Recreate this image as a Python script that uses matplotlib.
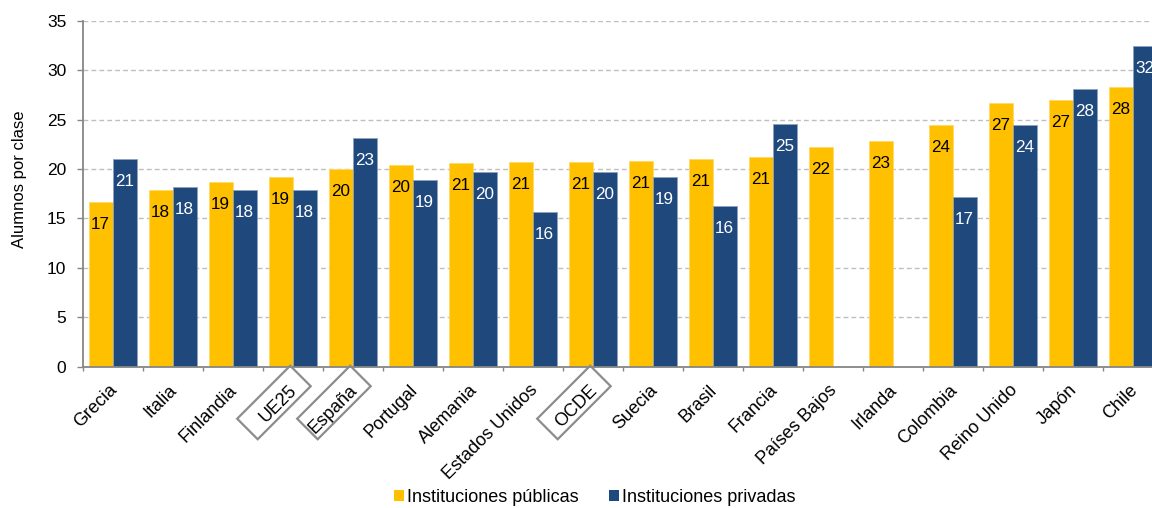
import numpy as np
import matplotlib
matplotlib.use("Agg")
import matplotlib.pyplot as plt
import matplotlib.transforms as mtrans
from matplotlib.patches import Polygon, Patch

plt.rcParams['font.family'] = ['Liberation Sans', 'DejaVu Sans']

categorias = ["Grecia", "Italia", "Finlandia", "UE25", "España", "Portugal", "Alemania",
              "Estados Unidos", "OCDE", "Suecia", "Brasil", "Francia", "Países Bajos",
              "Irlanda", "Colombia", "Reino Unido", "Japón", "Chile"]
publicas = [16.7, 17.9, 18.7, 19.2, 20.0, 20.4, 20.6, 20.7, 20.7, 20.8, 21.0, 21.2,
            22.2, 22.8, 24.4, 26.7, 27.0, 28.3]
privadas = [21.0, 18.2, 17.9, 17.9, 23.1, 18.9, 19.7, 15.6, 19.7, 19.2, 16.3, 24.6,
            np.nan, np.nan, 17.2, 24.4, 28.1, 32.4]
destacadas = ["UE25", "España", "OCDE"]
serie_nombres = ["Instituciones públicas", "Instituciones privadas"]

C_PUB = "#FFC000"
C_PRI = "#1F497D"
GRAY = "#868686"

W, H = 1152, 508
fig = plt.figure(figsize=(W / 100, H / 100), dpi=100)
ax = fig.add_axes([82.7 / W, (H - 366.7) / H, 1080 / W, 346 / H])

x = np.arange(len(categorias))
bw = 0.4
ax.bar(x - bw / 2, publicas, bw, color=C_PUB, edgecolor="#FFD966", linewidth=0.6, zorder=2)
ax.bar(x + bw / 2, privadas, bw, color=C_PRI, edgecolor="#8EA2BF", linewidth=0.6, zorder=2)

for xi, v in zip(x, publicas):
    ax.annotate(f"{v:.0f}", (xi - bw / 2, v), xytext=(0, -22.5), textcoords="offset pixels",
                ha="center", va="center", fontsize=12.3, color="black", zorder=3)
for xi, v in zip(x, privadas):
    if np.isnan(v):
        continue
    ax.annotate(f"{v:.0f}", (xi + bw / 2, v), xytext=(0, -22.5), textcoords="offset pixels",
                ha="center", va="center", fontsize=12.3, color="white", zorder=3)

ax.set_xlim(-0.5, len(categorias) - 0.5)
ax.set_ylim(0, 35)
ax.set_yticks(np.arange(0, 36, 5))
ax.set_axisbelow(True)
ax.yaxis.grid(True, color="#BFBFBF", linestyle=(0, (3.5, 2.2)), linewidth=1.0, zorder=0)

for s in ["top", "right"]:
    ax.spines[s].set_visible(False)
for s in ["left", "bottom"]:
    ax.spines[s].set_color(GRAY)
    ax.spines[s].set_linewidth(1.3)

ax.tick_params(axis="y", length=4.3, width=1, color=GRAY, pad=7.5, labelsize=12.5)
ax.set_xticks([])
ax.set_xticks(np.arange(-0.5, len(categorias), 1), minor=True)
ax.tick_params(axis="x", which="minor", length=3, width=1, color=GRAY)

off = mtrans.ScaledTranslation(2 / 100, -21 / 100, fig.dpi_scale_trans)
for xi, name in zip(x, categorias):
    ax.text(xi, 0, name, transform=ax.get_xaxis_transform() + off, rotation=45,
            rotation_mode="anchor", ha="right", va="center", fontsize=13)

# rotated boxes around highlighted categories, top corner at the category centre
s = np.sqrt(0.5)
bw_box, bh_box = 75, 29
for name in destacadas:
    i = categorias.index(name)
    top = np.array([-2.5, 1.0])
    r = top + np.array([s, -s]) * bh_box
    b = r + np.array([-s, -s]) * bw_box
    l = top + np.array([-s, -s]) * bw_box
    tr = mtrans.Affine2D().scale(fig.dpi / 100) + \
        mtrans.ScaledTranslation(i, 0, ax.get_xaxis_transform())
    poly = Polygon([top, r, b, l], closed=True, fill=False, edgecolor="#8C8C8C",
                   linewidth=1.6, transform=tr, clip_on=False, zorder=4)
    ax.add_artist(poly)

fig.text(20 / W, 1 - 179 / H, "Alumnos por clase", rotation=90, ha="center", va="center",
         fontsize=12)

fig.legend(handles=[Patch(fc=C_PUB), Patch(fc=C_PRI)], labels=serie_nombres,
           loc="center", bbox_to_anchor=(595 / W, 1 - 497 / H), ncol=2, frameon=False,
           fontsize=13, handlelength=0.55, handleheight=0.55, handletextpad=0.15,
           columnspacing=1.7)

fig.savefig("out.png", dpi=100)
